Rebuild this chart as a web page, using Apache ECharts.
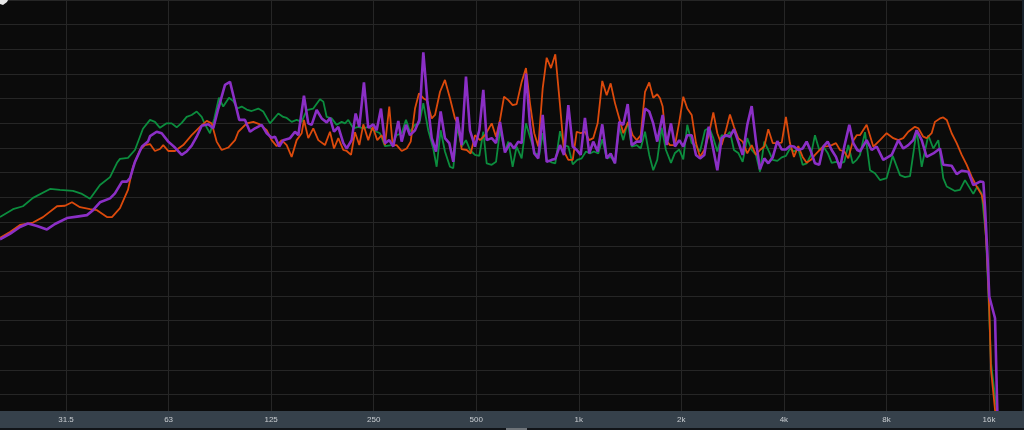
<!DOCTYPE html>
<html>
<head>
<meta charset="utf-8">
<script src="https://cdn.jsdelivr.net/npm/echarts@6/dist/echarts.min.js"></script>
<style>
html,body{margin:0;padding:0;background:#0b0b0b;}
#chart{width:1024px;height:430px;}
</style>
</head>
<body>
<div id="chart"></div>
<script>
// x values: octaves relative to 1 kHz (log2(f / 1000 Hz)); y values: level in dB
const tickOct = [-5, -4, -3, -2, -1, 0, 1, 2, 3, 4];
const tickLabels = ['31.5', '63', '125', '250', '500', '1k', '2k', '4k', '8k', '16k'];
const freqMinOct = Math.log2(20 / 1000);
const freqMaxOct = Math.log2(20000 / 1000);

const greenData = [
[-5.644,-44.0],[-5.517,-42.4],[-5.420,-41.8],[-5.322,-40.1],[-5.156,-38.3],[-5.059,-38.5],[-4.932,-38.7],[-4.844,-39.3],[-4.766,-40.3],[-4.669,-37.5],[-4.571,-35.9],[-4.503,-33.0],[-4.474,-32.2],[-4.396,-32.0],[-4.328,-30.4],[-4.250,-26.1],
[-4.181,-24.3],[-4.133,-24.7],[-4.084,-25.9],[-4.019,-25.0],[-3.970,-25.0],[-3.921,-25.8],[-3.872,-24.9],[-3.824,-23.7],[-3.775,-23.3],[-3.726,-22.6],[-3.677,-23.7],[-3.645,-25.2],[-3.596,-27.0],[-3.554,-24.0],[-3.509,-19.8],[-3.467,-21.6],[-3.411,-19.8],[-3.369,-20.5],[-3.330,-22.0],[-3.287,-21.6],[-3.238,-22.2],[-3.190,-22.5],[-3.125,-22.0],[-3.077,-22.6],[-3.011,-25.0],[-2.930,-23.0],[-2.882,-23.7],[-2.848,-23.9],[-2.800,-24.7],[-2.751,-24.3],[-2.702,-24.7],[-2.653,-22.3],[-2.589,-22.0],[-2.524,-20.1],[-2.491,-20.6],
[-2.458,-23.7],[-2.410,-24.0],[-2.361,-25.3],[-2.312,-24.7],[-2.280,-25.0],[-2.248,-24.3],[-2.199,-26.0],[-2.150,-25.7],[-2.101,-26.0],[-2.053,-25.7],[-2.004,-26.4],[-1.939,-27.0],[-1.890,-29.6],[-1.824,-29.4],[-1.776,-27.4],[-1.727,-27.0],[-1.685,-24.3],[-1.646,-26.7],[-1.597,-25.3],[-1.555,-25.0],[-1.516,-20.9],[-1.468,-26.4],[-1.419,-30.1],[-1.386,-33.8],[-1.347,-26.4],[-1.305,-30.7],[-1.256,-33.8],[-1.224,-34.1],[-1.185,-25.7],[-1.142,-29.7],[-1.100,-28.4],[-1.061,-30.4],[-1.012,-31.4],[-0.970,-31.6],[-0.931,-26.7],[-0.898,-33.1],[-0.849,-33.4],[-0.807,-32.8],
[-0.768,-26.4],[-0.720,-30.7],[-0.687,-28.7],[-0.645,-33.8],[-0.606,-29.7],[-0.557,-32.1],[-0.515,-25.0],[-0.476,-27.7],[-0.427,-31.1],[-0.385,-31.4],[-0.352,-27.0],[-0.313,-32.4],[-0.264,-32.9],[-0.229,-33.1],[-0.183,-26.6],[-0.144,-29.4],[-0.102,-29.7],[-0.059,-33.3],[-0.015,-32.4],[0.028,-32.1],[0.070,-30.7],[0.109,-31.1],[0.148,-30.7],[0.190,-31.1],[0.229,-28.2],[0.272,-32.1],[0.314,-31.8],[0.353,-33.1],[0.395,-25.7],[0.434,-28.4],[0.477,-24.8],[0.516,-29.7],[0.565,-29.4],[0.604,-30.1],[0.646,-26.7],[0.687,-31.4],[0.726,-34.5],[0.765,-32.4],
[0.808,-25.9],[0.850,-30.4],[0.899,-33.0],[0.938,-31.0],[0.980,-30.3],[1.019,-32.3],[1.058,-25.3],[1.101,-29.0],[1.143,-29.6],[1.182,-30.7],[1.231,-26.4],[1.273,-25.9],[1.312,-28.0],[1.351,-30.7],[1.393,-27.4],[1.435,-27.7],[1.474,-26.7],[1.513,-30.4],[1.555,-31.0],[1.598,-32.8],[1.643,-28.0],[1.686,-30.4],[1.728,-31.4],[1.767,-34.8],[1.809,-28.7],[1.848,-30.4],[1.891,-32.4],[1.936,-32.6],[1.979,-31.9],[2.020,-31.6],[2.059,-30.1],[2.098,-30.7],[2.140,-30.1],[2.183,-33.4],[2.222,-33.1],[2.264,-31.4],[2.303,-27.4],[2.345,-30.4],[2.384,-29.7],[2.427,-31.0],[2.466,-33.0],[2.508,-32.8],[2.547,-33.1],[2.589,-32.8],[2.628,-29.4],[2.671,-33.1],[2.710,-32.4],
[2.742,-31.4],[2.791,-26.8],[2.840,-34.5],[2.888,-35.1],[2.937,-36.5],[3.002,-36.1],[3.061,-31.6],[3.132,-35.5],[3.181,-35.9],[3.230,-35.7],[3.295,-26.4],[3.344,-33.8],[3.408,-27.4],[3.457,-30.1],[3.506,-28.4],[3.554,-36.1],[3.588,-37.8],[3.668,-38.7],[3.717,-38.5],[3.766,-36.5],[3.847,-39.3],[3.886,-37.8],[3.929,-39.2],[3.971,-48.0],[3.993,-58.8],[4.020,-73.6],[4.075,-83.1],[4.127,-97.3]
];

const orangeData = [
[-5.644,-48.2],[-5.547,-47.0],[-5.449,-45.6],[-5.322,-45.1],[-5.225,-44.0],[-5.088,-41.8],[-5.010,-41.7],[-4.942,-41.0],[-4.864,-42.0],[-4.766,-42.4],[-4.698,-42.6],[-4.601,-44.0],[-4.552,-44.0],[-4.474,-42.2],[-4.396,-38.5],[-4.347,-33.8],[-4.279,-30.4],[-4.230,-29.4],
[-4.181,-29.2],[-4.133,-30.6],[-4.084,-30.2],[-4.052,-29.4],[-4.003,-30.6],[-3.938,-30.6],[-3.857,-29.4],[-3.775,-27.4],[-3.694,-25.7],[-3.628,-24.5],[-3.580,-25.0],[-3.531,-28.7],[-3.482,-30.4],[-3.418,-29.9],[-3.352,-28.4],[-3.320,-26.7],[-3.238,-25.0],[-3.174,-24.7],[-3.109,-25.2],[-3.043,-26.4],[-2.995,-28.4],[-2.946,-29.6],[-2.897,-28.4],[-2.848,-29.4],[-2.800,-31.8],[-2.751,-28.4],[-2.702,-27.0],[-2.680,-24.3],[-2.638,-28.0],[-2.589,-26.0],[-2.540,-28.4],
[-2.475,-29.4],[-2.426,-26.7],[-2.387,-30.1],[-2.345,-28.0],[-2.296,-30.4],[-2.263,-30.6],[-2.221,-31.4],[-2.182,-26.8],[-2.140,-29.4],[-2.101,-25.2],[-2.053,-28.4],[-2.010,-25.7],[-1.965,-28.4],[-1.922,-27.4],[-1.890,-29.4],[-1.848,-21.6],[-1.815,-29.4],[-1.776,-29.4],[-1.727,-30.6],[-1.678,-30.1],[-1.639,-28.7],[-1.597,-22.0],[-1.558,-18.9],[-1.516,-19.9],[-1.483,-20.3],[-1.434,-24.0],[-1.402,-23.3],[-1.353,-18.6],[-1.305,-16.2],[-1.256,-19.9],[-1.207,-24.0],[-1.175,-25.3],[-1.142,-30.2],[-1.093,-30.4],[-1.054,-31.1],[-1.012,-27.4],[-0.963,-28.4],[-0.915,-27.4],[-0.849,-25.0],[-0.807,-27.7],
[-0.768,-24.3],[-0.729,-19.6],[-0.687,-20.3],[-0.645,-21.3],[-0.606,-21.1],[-0.557,-16.6],[-0.515,-13.8],[-0.476,-20.9],[-0.434,-27.0],[-0.395,-29.7],[-0.352,-17.9],[-0.313,-11.7],[-0.271,-13.8],[-0.229,-11.0],[-0.183,-21.3],[-0.144,-30.7],[-0.102,-32.4],[-0.059,-32.4],[-0.020,-26.7],[0.019,-27.0],[0.060,-26.7],[0.102,-28.4],[0.141,-28.0],[0.184,-25.0],[0.229,-16.4],[0.272,-19.3],[0.311,-16.9],[0.353,-20.9],[0.395,-24.0],[0.434,-27.0],[0.483,-24.7],[0.526,-27.4],[0.565,-28.4],[0.604,-27.4],[0.646,-18.6],[0.687,-16.7],[0.726,-19.8],[0.765,-19.1],
[0.792,-19.9],[0.818,-21.6],[0.850,-28.4],[0.889,-29.4],[0.938,-29.4],[0.980,-24.7],[1.019,-19.6],[1.058,-22.0],[1.101,-23.3],[1.143,-29.0],[1.182,-31.8],[1.224,-30.4],[1.267,-27.4],[1.312,-22.8],[1.351,-27.0],[1.393,-29.4],[1.435,-26.4],[1.474,-23.2],[1.513,-25.7],[1.555,-28.0],[1.598,-28.7],[1.643,-31.1],[1.686,-29.4],[1.728,-31.4],[1.767,-30.4],[1.809,-29.7],[1.848,-26.2],[1.891,-29.0],[1.936,-29.0],[1.979,-28.9],[2.020,-23.7],[2.059,-29.0],[2.098,-31.8],[2.140,-29.6],[2.183,-31.8],[2.222,-33.0],[2.264,-32.4],[2.303,-31.4],[2.345,-30.5],[2.384,-29.7],[2.427,-29.6],[2.466,-29.4],[2.508,-29.0],[2.547,-30.4],[2.589,-30.7],[2.628,-32.1],[2.671,-28.7],[2.710,-27.4],
[2.742,-27.4],[2.807,-25.3],[2.872,-29.7],[2.937,-28.4],[3.002,-27.0],[3.067,-28.0],[3.116,-28.4],[3.164,-28.0],[3.213,-26.7],[3.278,-25.7],[3.311,-26.0],[3.359,-27.7],[3.392,-28.0],[3.441,-27.0],[3.473,-24.7],[3.522,-24.0],[3.554,-23.8],[3.588,-24.3],[3.636,-27.0],[3.685,-29.0],[3.734,-31.4],[3.783,-33.4],[3.831,-35.8],[3.880,-37.8],[3.929,-39.5],[3.951,-41.6],[3.978,-50.7],[4.003,-62.8],[4.020,-75.0],[4.059,-83.1],[4.107,-95.3]
];

const purpleData = [
[-5.644,-48.5],[-5.547,-47.4],[-5.449,-46.0],[-5.371,-45.3],[-5.283,-45.8],[-5.186,-46.5],[-5.108,-45.4],[-4.991,-44.2],[-4.893,-43.9],[-4.796,-43.6],[-4.737,-42.6],[-4.669,-41.0],[-4.571,-40.2],[-4.523,-39.2],[-4.454,-36.8],[-4.406,-36.8],[-4.376,-36.1],[-4.328,-32.8],[-4.259,-29.7],[-4.201,-28.7],
[-4.181,-27.6],[-4.116,-26.7],[-4.067,-27.0],[-4.003,-28.7],[-3.938,-29.9],[-3.872,-31.4],[-3.824,-30.7],[-3.775,-29.5],[-3.726,-27.7],[-3.677,-25.5],[-3.613,-25.2],[-3.564,-26.0],[-3.515,-22.0],[-3.450,-17.2],[-3.401,-16.6],[-3.369,-19.3],[-3.311,-24.3],[-3.255,-24.3],[-3.206,-26.7],[-3.157,-26.0],[-3.092,-25.3],[-3.043,-27.0],[-2.995,-27.9],[-2.962,-27.7],[-2.921,-29.7],[-2.882,-28.4],[-2.816,-28.0],[-2.767,-26.7],[-2.735,-27.4],[-2.680,-19.4],[-2.638,-25.0],[-2.605,-25.3],[-2.556,-22.3],[-2.507,-24.0],[-2.458,-24.8],[-2.426,-23.9],
[-2.387,-26.7],[-2.345,-25.7],[-2.296,-29.0],[-2.263,-30.1],[-2.215,-28.4],[-2.176,-23.0],[-2.140,-25.7],[-2.095,-16.7],[-2.053,-25.9],[-2.004,-25.2],[-1.971,-26.4],[-1.929,-22.0],[-1.890,-29.0],[-1.848,-28.4],[-1.809,-29.7],[-1.760,-24.5],[-1.727,-28.7],[-1.685,-25.3],[-1.646,-27.4],[-1.597,-26.4],[-1.555,-24.3],[-1.516,-10.6],[-1.477,-20.3],[-1.434,-28.0],[-1.392,-30.7],[-1.347,-22.6],[-1.305,-28.0],[-1.263,-29.0],[-1.224,-32.8],[-1.185,-23.7],[-1.142,-29.4],[-1.100,-15.5],[-1.061,-26.4],[-1.012,-29.7],[-0.970,-26.4],[-0.931,-18.2],[-0.898,-28.4],[-0.849,-28.0],[-0.807,-29.0],
[-0.768,-24.7],[-0.720,-30.9],[-0.671,-29.0],[-0.632,-30.1],[-0.590,-28.7],[-0.557,-29.0],[-0.515,-14.9],[-0.476,-25.3],[-0.434,-31.1],[-0.395,-32.1],[-0.352,-23.3],[-0.313,-32.8],[-0.264,-32.4],[-0.229,-32.2],[-0.183,-29.4],[-0.144,-31.4],[-0.102,-21.3],[-0.059,-29.7],[-0.020,-30.4],[0.019,-31.4],[0.060,-23.9],[0.102,-31.1],[0.141,-28.7],[0.184,-30.7],[0.229,-25.2],[0.272,-32.1],[0.311,-31.1],[0.353,-33.1],[0.395,-24.7],[0.434,-25.3],[0.477,-21.1],[0.516,-29.4],[0.565,-28.7],[0.604,-28.7],[0.646,-22.0],[0.687,-22.6],[0.726,-25.0],[0.765,-28.7],
[0.818,-23.3],[0.857,-29.4],[0.899,-25.0],[0.938,-29.7],[0.980,-28.4],[1.019,-29.7],[1.058,-27.4],[1.101,-27.4],[1.143,-31.4],[1.182,-32.1],[1.224,-31.4],[1.267,-25.7],[1.306,-29.7],[1.351,-34.5],[1.393,-28.0],[1.435,-27.4],[1.474,-27.7],[1.513,-26.2],[1.555,-28.7],[1.598,-31.4],[1.643,-25.3],[1.686,-21.5],[1.728,-28.7],[1.767,-34.3],[1.809,-32.1],[1.848,-33.1],[1.891,-31.9],[1.936,-28.6],[1.979,-30.3],[2.020,-30.3],[2.059,-29.6],[2.098,-29.7],[2.140,-30.4],[2.183,-30.1],[2.222,-28.7],[2.264,-30.7],[2.303,-33.1],[2.345,-33.4],[2.384,-29.7],[2.427,-28.7],[2.466,-30.4],[2.508,-31.8],[2.547,-34.1],[2.589,-29.7],[2.638,-25.3],[2.677,-29.0],[2.716,-30.4],
[2.742,-30.7],[2.807,-28.4],[2.856,-30.4],[2.905,-29.7],[2.969,-32.4],[3.051,-31.4],[3.116,-28.4],[3.164,-30.1],[3.213,-29.4],[3.262,-28.4],[3.295,-26.4],[3.344,-28.4],[3.392,-31.8],[3.457,-31.1],[3.522,-30.1],[3.554,-33.4],[3.636,-33.6],[3.685,-35.3],[3.734,-34.6],[3.798,-34.8],[3.847,-37.5],[3.912,-36.8],[3.945,-36.9],[3.961,-41.9],[3.983,-50.7],[4.003,-60.1],[4.059,-64.5],[4.081,-83.1],[4.107,-95.3]
];

const chart = echarts.init(document.getElementById('chart'), null, {renderer: 'canvas'});

const gridLineColor = '#262626';

chart.setOption({
  animation: false,
  backgroundColor: '#0b0b0b',
  grid: {left: 0, right: 2, top: 0, bottom: 10.6, containLabel: false},
  xAxis: [
    {
      type: 'value', min: freqMinOct, max: freqMaxOct, position: 'bottom',
      axisLine: {show: false},
      axisTick: {show: false, customValues: tickOct},
      axisLabel: {show: false, customValues: tickOct},
      splitLine: {show: true, lineStyle: {color: gridLineColor, width: 1}}
    },
    {
      type: 'value', min: freqMinOct, max: freqMaxOct, position: 'bottom', z: 60,
      axisLine: {show: false},
      axisTick: {show: false, customValues: tickOct},
      splitLine: {show: false},
      axisLabel: {
        show: true, customValues: tickOct, margin: 0, verticalAlign: 'middle',
        color: '#c9cdd1', fontSize: 8, fontFamily: 'Liberation Sans, Arial, sans-serif',
        formatter: function (v) { return tickLabels[tickOct.indexOf(Math.round(v))] || ''; }
      }
    }
  ],
  yAxis: {
    type: 'value', min: -85, max: 0, interval: 5,
    axisLine: {show: false}, axisTick: {show: false}, axisLabel: {show: false},
    splitLine: {show: true, lineStyle: {color: gridLineColor, width: 1}}
  },
  graphic: [
    {type: 'rect', z: 50, shape: {x: 0, y: 411, width: 1024, height: 17}, style: {fill: '#36414b'}},
    {type: 'rect', z: 50, shape: {x: 0, y: 428, width: 1024, height: 2}, style: {fill: '#111418'}},
    {type: 'rect', z: 51, shape: {x: 506, y: 428, width: 21, height: 2}, style: {fill: '#6e7378'}},
    {type: 'rect', z: 50, shape: {x: 1022, y: 0, width: 2, height: 411}, style: {fill: '#18222b'}},
    {type: 'polygon', z: 50, shape: {points: [[0, 0], [8, 0], [7, 2], [3, 5], [0, 4]]}, style: {fill: '#e8e8e8'}}
  ],
  series: [
    {name: 'green', type: 'line', xAxisIndex: 0, data: greenData, showSymbol: false, z: 3,
     lineStyle: {color: '#0c8d3e', width: 1.8}},
    {name: 'orange', type: 'line', xAxisIndex: 0, data: orangeData, showSymbol: false, z: 4,
     lineStyle: {color: '#dc4a0c', width: 1.8}},
    {name: 'purple', type: 'line', xAxisIndex: 0, data: purpleData, showSymbol: false, z: 5,
     lineStyle: {color: '#8b2fc6', width: 2.6}}
  ]
});
</script>
</body>
</html>
